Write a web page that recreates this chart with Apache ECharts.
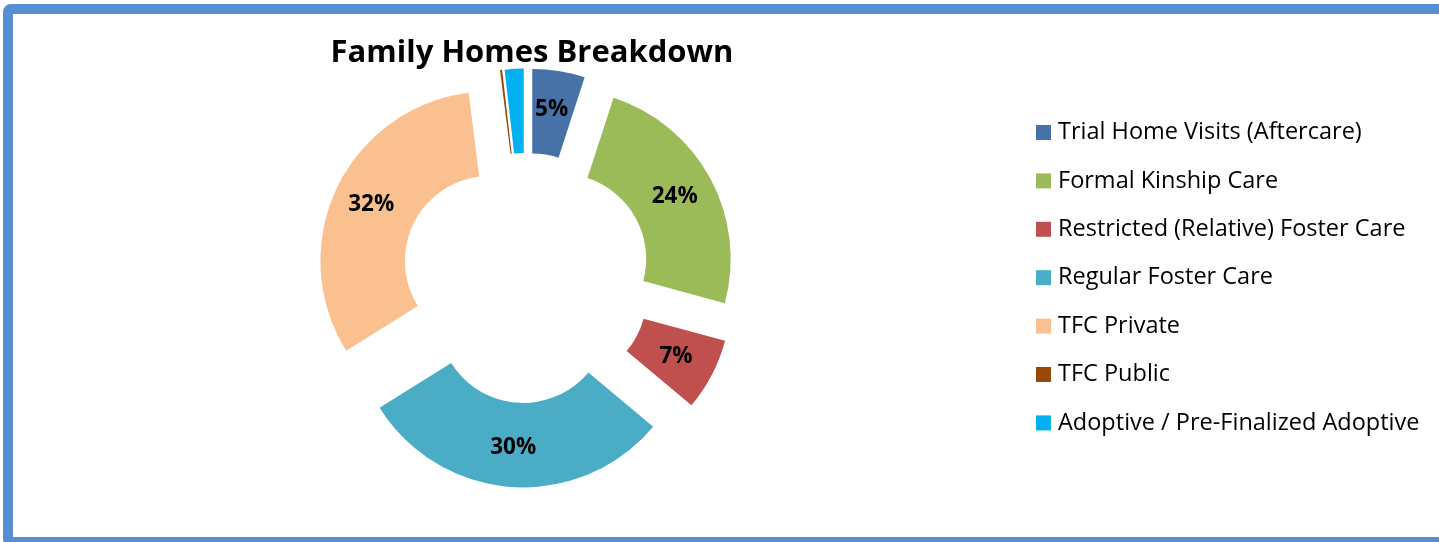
<!DOCTYPE html>
<html>
<head>
<meta charset="utf-8">
<title>Family Homes Breakdown</title>
<script src="https://cdn.jsdelivr.net/npm/echarts@6/dist/echarts.min.js"></script>
<style>
    html, body { margin: 0; padding: 0; background: #fff; }
    #container { width: 1439px; height: 542px; }
</style>
</head>
<body>
<div id="container"></div>
<script>
// share of family homes by placement type (percent)
var categories = [
    'Trial Home Visits (Aftercare)',
    'Formal Kinship Care',
    'Restricted (Relative) Foster Care',
    'Regular Foster Care',
    'TFC Private',
    'TFC Public',
    'Adoptive / Pre-Finalized Adoptive'
];
var values = [5.0, 24.2, 6.9, 30.0, 31.9, 0.2, 1.8];
var colors = ['#4672A8', '#9BBB59', '#C0504D', '#4BACC6', '#FAC090', '#984807', '#00B0F0'];
// slices too thin to carry a label
var noLabel = ['TFC Public', 'Adoptive / Pre-Finalized Adoptive'];

var dom = document.getElementById('container');
var myChart = echarts.init(dom);

var data = categories.map(function (name, i) {
    var item = {
        name: name,
        value: values[i],
        selected: true,
        itemStyle: { color: colors[i] }
    };
    if (noLabel.indexOf(name) > -1) {
        item.label = { show: false };
    }
    return item;
});

var option = {
    backgroundColor: '#fff',
    animation: false,
    title: {
        text: 'Family Homes Breakdown',
        left: 527,
        top: 33,
        textAlign: 'center',
        textStyle: {
            fontFamily: 'Open Sans',
            fontWeight: 'bold',
            fontSize: 31,
            color: '#000'
        }
    },
    legend: {
        orient: 'vertical',
        left: 1031,
        top: 115.5,
        itemWidth: 15,
        itemHeight: 15,
        itemGap: 24.4,
        icon: 'rect',
        selectedMode: false,
        data: categories,
        textStyle: {
            fontFamily: 'Open Sans',
            fontSize: 23.5,
            lineHeight: 24,
            color: '#000',
            padding: [0, 0, 0, 2]
        }
    },
    graphic: [{
        type: 'rect',
        silent: true,
        shape: { x: 8, y: 9, width: 1450, height: 533, r: 3 },
        style: { fill: 'none', stroke: '#558ED5', lineWidth: 10 }
    }],
    series: [{
        name: 'Family Homes',
        type: 'pie',
        center: [526, 278],
        radius: [85, 169.5],
        startAngle: 90,
        clockwise: true,
        selectedMode: 'multiple',
        selectedOffset: 40,
        percentPrecision: 0,
        avoidLabelOverlap: false,
        itemStyle: { borderWidth: 0 },
        label: {
            show: true,
            position: 'inside',
            formatter: '{d}%',
            padding: [7, 2, 0, 0],  // nudges text a bit down/left like the original
            fontFamily: 'Open Sans',
            fontWeight: 'bold',
            fontSize: 22.5,
            color: '#000'
        },
        labelLine: { show: false },
        emphasis: { disabled: true },
        data: data
    }]
};

myChart.setOption(option);
</script>
</body>
</html>
